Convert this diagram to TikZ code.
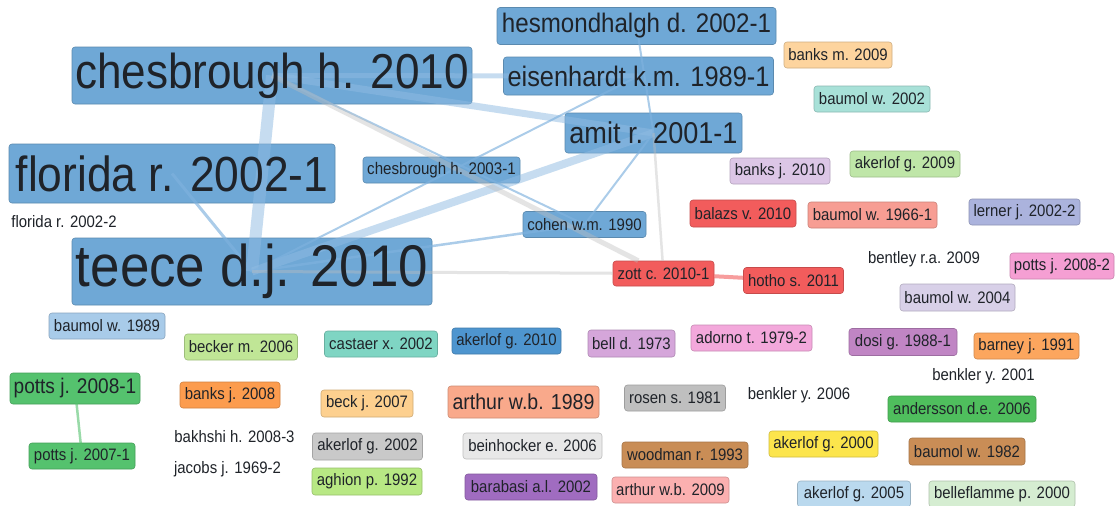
\documentclass[tikz,border=0pt]{standalone}
\usepackage{fontspec}
\newfontfamily\vfont[FakeStretch=0.9]{Liberation Sans}
% label fills
\definecolor{ink}{HTML}{1F2329}
\definecolor{cblue}{HTML}{6FA8D6}
\definecolor{cakten}{HTML}{4E95CF}
\definecolor{cred}{HTML}{F25C5C}
\definecolor{cbanksm}{HTML}{FDD49E}
\definecolor{cbaumtwo}{HTML}{A8E1D8}
\definecolor{cbanksj}{HTML}{DCC6E6}
\definecolor{caknine}{HTML}{BFE6A8}
\definecolor{cbaumsix}{HTML}{F79D93}
\definecolor{clerner}{HTML}{ABB3DD}
\definecolor{cpottsb}{HTML}{F59FD3}
\definecolor{cbaumfour}{HTML}{D8D0E8}
\definecolor{cbaumeight}{HTML}{A8CBE9}
\definecolor{cbecker}{HTML}{C0E696}
\definecolor{ccastaer}{HTML}{7FD5C3}
\definecolor{cbell}{HTML}{D5A6DA}
\definecolor{cadorno}{HTML}{F3A8DB}
\definecolor{cdosi}{HTML}{C085C4}
\definecolor{cbarney}{HTML}{FCA65E}
\definecolor{cpotts}{HTML}{55C26E}
\definecolor{cbankseight}{HTML}{FC9C4E}
\definecolor{cbeck}{HTML}{FDD08F}
\definecolor{carthurA}{HTML}{F9A98B}
\definecolor{crosen}{HTML}{BFBFBF}
\definecolor{cander}{HTML}{4FBE5D}
\definecolor{caktwo}{HTML}{C9C9C9}
\definecolor{cbein}{HTML}{E8E8E8}
\definecolor{cwood}{HTML}{C98D56}
\definecolor{cakzero}{HTML}{FCE54C}
\definecolor{cagh}{HTML}{B8E884}
\definecolor{cbara}{HTML}{A06CC0}
\definecolor{carthurB}{HTML}{FBB0B0}
\definecolor{cakfive}{HTML}{BAD9EE}
\definecolor{cbelle}{HTML}{D5EDD1}
% link colours
\definecolor{edgeblue}{HTML}{8FBBE2}
\definecolor{edgethin}{HTML}{7FB2DE}
\definecolor{edgegray}{HTML}{BDBDBD}
\begin{document}
\begin{tikzpicture}[x=1pt,y=-1pt,
  box/.style={rounded corners=3pt, fill=#1, draw=#1!82!black, line width=0.6pt, inner sep=0pt},
  wh/.style 2 args={minimum width=#1pt, minimum height=#2pt},
  txt/.style={font=\vfont\fontsize{#1}{#1}\selectfont, text=ink, inner sep=0pt},
  txt/.default=16.6,
  eb/.style={draw=edgeblue, draw opacity=0.5, line width=#1pt},
  ebt/.style={draw=edgethin, draw opacity=0.65, line width=#1pt},
  eg/.style={draw=edgegray, draw opacity=0.4, line width=#1pt},
  er/.style={draw=cred, draw opacity=0.6, line width=#1pt},
  egr/.style={draw=cpotts, draw opacity=0.6, line width=#1pt}]
\fill[white] (0,0) rectangle (1117,506);
\useasboundingbox (0,0) rectangle (1117,506);

% boxes of the linked cluster (labels are set on top of the links)
\node[box=cblue, wh={279}{37}] (hes) at (636.5,26) {};
\node[box=cblue, wh={400}{57}] (ches10) at (272,75.5) {};
\node[box=cblue, wh={270}{38}] (eis) at (638.5,76) {};
\node[box=cblue, wh={177}{40}] (amit) at (653.5,133) {};
\node[box=cblue, wh={326}{59}] (flo1) at (172,173.5) {};
\node[box=cblue, wh={157}{26}] (ches03) at (441.5,170) {};
\node[box=cblue, wh={123}{26}] (cohen) at (584.5,224.5) {};
\node[box=cblue, wh={360}{67}] (teece) at (252,271.5) {};
\node[box=cpotts, wh={130}{31}] (potts08) at (75,388.5) {};
\node[box=cpotts, wh={106}{26}] (potts07) at (82,456) {};

% single labels
\node[box=cred, wh={101}{25}, txt] (zott) at (663.5,273.5) {zott c. 2010-1};
\node[box=cred, wh={100}{26}, txt] (hotho) at (793.5,280.5) {hotho s. 2011};
\node[box=cbanksm, wh={108}{26}, txt] (banksm) at (838,55) {banks m. 2009};
\node[box=cbaumtwo, wh={116}{26}, txt] (baum02) at (872,99) {baumol w. 2002};
\node[box=cbanksj, wh={100}{26}, txt] (banksj10) at (780,171) {banks j. 2010};
\node[box=caknine, wh={110}{26}, txt] (ak09) at (905,164) {akerlof g. 2009};
\node[box=cred, wh={106}{27}, txt] (balazs) at (743,213.5) {balazs v. 2010};
\node[box=cbaumsix, wh={129}{26}, txt] (baum66) at (872.5,215) {baumol w. 1966-1};
\node[box=clerner, wh={111}{26}, txt] (lerner) at (1024.5,212) {lerner j. 2002-2};
\node[txt] (bentley) at (924,259) {bentley r.a. 2009};
\node[box=cpottsb, wh={104}{26}, txt] (potts2) at (1062,266) {potts j. 2008-2};
\node[box=cbaumfour, wh={115}{27}, txt] (baum04) at (957.5,297.5) {baumol w. 2004};
\node[txt] (flo2) at (64,222) {florida r. 2002-2};
\node[box=cbaumeight, wh={116}{26}, txt] (baum89) at (107,326) {baumol w. 1989};
\node[box=cbecker, wh={113}{26}, txt] (becker) at (241,347) {becker m. 2006};
\node[box=ccastaer, wh={113}{26}, txt] (castaer) at (381,344) {castaer x. 2002};
\node[box=cakten, wh={109}{26}, txt] (ak10) at (506.5,341) {akerlof g. 2010};
\node[box=cbell, wh={87}{27}, txt] (bell) at (631.5,343.5) {bell d. 1973};
\node[box=cadorno, wh={121}{26}, txt] (adorno) at (751.5,338) {adorno t. 1979-2};
\node[box=cdosi, wh={108}{27}, txt] (dosi) at (903,342) {dosi g. 1988-1};
\node[box=cbarney, wh={105}{26}, txt] (barney) at (1026.5,346) {barney j. 1991};
\node[txt] (benkler01) at (983.5,376) {benkler y. 2001};
\node[box=cbankseight, wh={100}{26}, txt] (banks08) at (230,395) {banks j. 2008};
\node[box=cbeck, wh={92}{27}, txt] (beck) at (367,403.5) {beck j. 2007};
\node[box=carthurA, wh={151}{32}, txt=21.7] (arthur89) at (523.5,402) {arthur w.b. 1989};
\node[box=crosen, wh={101}{26}, txt] (rosen) at (675,398) {rosen s. 1981};
\node[txt] (benkler06) at (799,395) {benkler y. 2006};
\node[box=cander, wh={148}{26}, txt] (ander) at (962,409) {andersson d.e. 2006};
\node[txt] (bakhshi) at (234.5,437) {bakhshi h. 2008-3};
\node[box=caktwo, wh={110}{27}, txt] (ak02) at (367.5,446.5) {akerlof g. 2002};
\node[box=cbein, wh={139}{26}, txt] (bein) at (532.5,446) {beinhocker e. 2006};
\node[box=cwood, wh={126}{26}, txt] (wood) at (685,455) {woodman r. 1993};
\node[box=cakzero, wh={109}{26}, txt] (ak00) at (823.5,444) {akerlof g. 2000};
\node[box=cwood, wh={116}{27}, txt] (baum82) at (967,451.5) {baumol w. 1982};
\node[txt] (jacobs) at (227.5,469) {jacobs j. 1969-2};
\node[box=cagh, wh={110}{27}, txt] (agh) at (367,481.5) {aghion p. 1992};
\node[box=cbara, wh={132}{26}, txt] (bara) at (531,487) {barabasi a.l. 2002};
\node[box=carthurB, wh={117}{26}, txt] (arthur09) at (670.5,490) {arthur w.b. 2009};
\node[box=cakfive, wh={113}{26}, txt] (ak05) at (854,494) {akerlof g. 2005};
\node[box=cbelle, wh={146}{26}, txt] (belle) at (1002,494) {belleflamme p. 2000};

% links
\draw[eb=12] (ches10.center) -- (teece.center);
\draw[eb=7] (ches10.center) -- (amit.center);
\draw[eb=5] (ches10.center) -- (eis.center);
\draw[eb=8] (teece.center) -- (amit.center);
\draw[ebt=2] (teece.center) -- (eis.center);
\draw[ebt=2.5] (teece.center) -- (cohen.center);
\draw[ebt=3] (teece.center) -- (flo1.center);
\draw[ebt=2] (ches10.center) -- (cohen.center);
\draw[ebt=2] (amit.center) -- (cohen.center);
\draw[ebt=2] (amit.center) -- (hes.center);
\draw[eg=3] (teece.center) -- (zott);
\draw[eg=5] (ches10.center) -- (zott);
\draw[eg=2.5] (amit.center) -- (zott);
\draw[er=4] (zott) -- (hotho);
\draw[egr=2.5] (potts08.center) -- (potts07.center);

% labels of the linked cluster
\node[txt=26.8] (hes-l) at (hes.center) {hesmondhalgh d. 2002-1};
\node[txt=49] (ches10-l) at (ches10.center) {chesbrough h. 2010};
\node[txt=28.2] (eis-l) at (eis.center) {eisenhardt k.m. 1989-1};
\node[txt=30.1] (amit-l) at (amit.center) {amit r. 2001-1};
\node[txt=49.3] (flo1-l) at (flo1.center) {florida r. 2002-1};
\node[txt=16.8] (ches03-l) at (ches03.center) {chesbrough h. 2003-1};
\node[txt] (cohen-l) at (cohen.center) {cohen w.m. 1990};
\node[txt=58.8] (teece-l) at (teece.center) {teece d.j. 2010};
\node[txt=21.2] (potts08-l) at (potts08.center) {potts j. 2008-1};
\node[txt] (potts07-l) at (potts07.center) {potts j. 2007-1};
\end{tikzpicture}
\end{document}
